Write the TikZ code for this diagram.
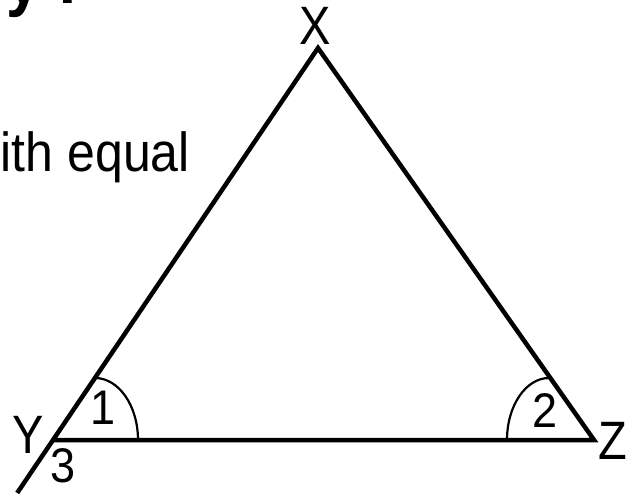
\documentclass[tikz,border=0pt]{standalone}
\usepackage{fontspec}
\setmainfont{Liberation Sans}
\usetikzlibrary{calc}

\begin{document}
\begin{tikzpicture}[x=1pt,y=1pt,
  tri/.style={line width=4.5pt,line join=miter},
  ang/.style={line width=2.2pt},
  vlab/.style={inner sep=0pt,yscale=1.15,font=\fontsize{47}{56}\selectfont},
  nlab/.style={inner sep=0pt,yscale=1.08,font=\fontsize{45}{54}\selectfont}
]
\useasboundingbox (0,0) rectangle (642,493);
\clip (0,0) rectangle (642,493);
% corners of the triangle
\coordinate (X) at (318,445);
\coordinate (Y) at (53,53);
\coordinate (Z) at (594,53);
\coordinate (ext) at ($(X)!1.135!(Y)$);
\draw[tri] (Y) -- (Z) -- (X) -- (ext);
% angle marks
\draw[ang] ($(Y)+(85,0)$) arc[start angle=0,end angle=90,x radius=43,y radius=62];
\draw[ang] ($(Z)+(-87,0)$) arc[start angle=180,end angle=90,x radius=42,y radius=62];
% labels
\node[vlab] (lX) at (315,467) {X};
\node[vlab] (lY) at (28,58) {Y};
\node[vlab] (lZ) at (613,52) {Z};
\node[nlab] (n1) at (103,85) {1};
\node[nlab] (n2) at (545,82) {2};
\node[nlab] (n3) at (63,27) {3};
% text cut at the edges
\node[anchor=base east,inner sep=0pt,yscale=1.1,font=\fontsize{50}{60}\selectfont] (txt) at (190,321) {ith equal};
\node[anchor=base west,inner sep=0pt,yscale=1.1,font=\bfseries\fontsize{62}{70}\selectfont] (ttl) at (6,489) {y :};
\end{tikzpicture}
\end{document}
